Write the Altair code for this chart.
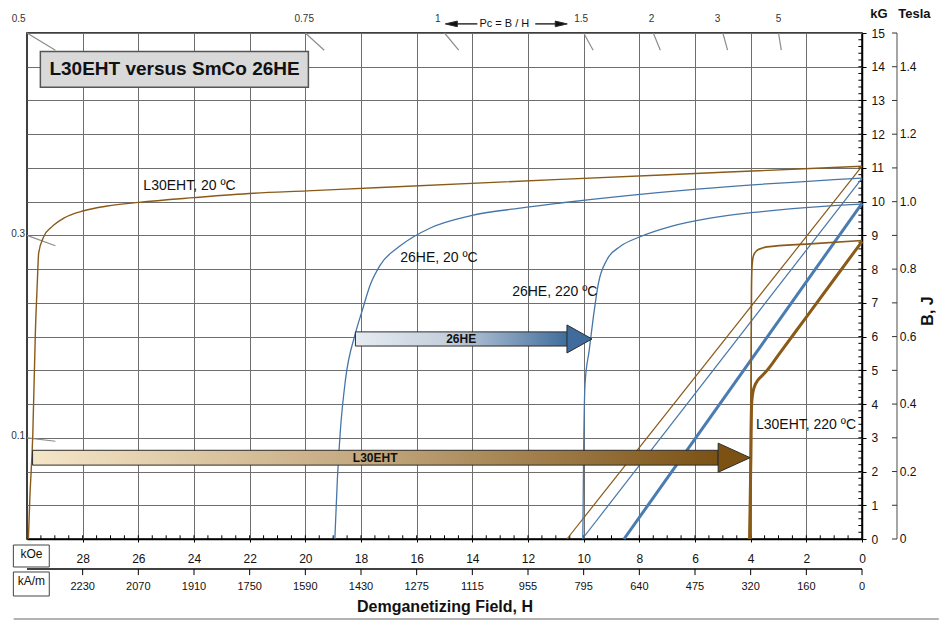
import altair as alt
import pandas as pd
import numpy as np

FONT = "Liberation Sans"
BROWN = "#8a5a18"
BLUE = "#4676a8"
GRID = "#6e6e6e"

# ---------------- demagnetization curves (H in kOe, B / J in kG) ----------------
l30_20_j_h = [29.95, 29.90, 29.79, 29.70, 29.63, 29.58, 29.40, 29.10, 28.68, 27.96, 27.12, 25.98, 24.00, 21.85, 19.94, 17.30, 10.84, 5.00, 0.00]
l30_20_j_b = [0.00, 1.16, 3.14, 6.11, 7.59, 8.48, 8.96, 9.26, 9.51, 9.73, 9.87, 9.98, 10.12, 10.25, 10.32, 10.42, 10.66, 10.87, 11.05]

l30_20_b_h = [10.60, 0.00]
l30_20_b_b = [0.00, 11.05]

l30_220_j_h = [4.04, 3.99, 3.97, 3.95, 3.90, 3.78, 3.60, 3.42, 1.87, 0.00]
l30_220_j_b = [0.00, 4.62, 7.50, 8.10, 8.40, 8.55, 8.62, 8.66, 8.75, 8.85]

l30_220_b_h = [4.04, 3.99, 3.97, 3.93, 3.85, 3.75, 3.60, 3.40, 3.00, 2.00, 1.00, 0.00]
l30_220_b_b = [0.00, 2.50, 3.90, 4.30, 4.55, 4.70, 4.83, 5.01, 5.46, 6.58, 7.70, 8.82]

he_20_j_h = [18.94, 18.85, 18.74, 18.56, 18.20, 17.95, 17.67, 17.31, 16.59, 15.51, 14.08, 12.28, 10.84, 5.82, 0.00]
he_20_j_b = [0.00, 1.75, 3.23, 4.71, 6.10, 6.79, 7.53, 8.12, 8.69, 9.22, 9.58, 9.81, 9.96, 10.38, 10.70]

he_20_b_h = [10.05, 0.00]
he_20_b_b = [0.00, 10.69]

he_220_j_h = [10.03, 10.00, 9.95, 9.80, 9.65, 9.47, 9.17, 8.69, 7.97, 6.89, 5.46, 3.66, 1.27, 0.00]
he_220_j_b = [0.00, 2.64, 4.61, 5.60, 6.59, 7.58, 8.27, 8.67, 8.96, 9.26, 9.51, 9.70, 9.87, 9.93]

he_220_b_h = [8.55, 0.00]
he_220_b_b = [0.00, 9.95]

# ---------------- labels ----------------
curve_label_text = ["L30EHT, 20 ºC", "26HE, 20 ºC", "26HE, 220 ºC", "L30EHT, 220 ºC"]
curve_label_h = [25.82, 16.59, 12.57, 3.81]
curve_label_b = [10.47, 8.33, 7.32, 3.38]

koe_ticks = list(range(0, 30, 2))
kam_at_koe = [28, 26, 24, 22, 20, 18, 16, 14, 12, 10, 8, 6, 4, 2, 0]
kam_labels = ["2230", "2070", "1910", "1750", "1590", "1430", "1275", "1115", "955", "795", "640", "475", "320", "160", "0"]

kg_ticks = list(range(0, 16))
tesla_at_kg = [0, 2, 4, 6, 8, 10, 12, 14]
tesla_labels = ["0", "0.2", "0.4", "0.6", "0.8", "1.0", "1.2", "1.4"]

pc_values = [0.1, 0.3, 0.5, 0.75, 1, 1.5, 2, 3, 5]
pc_top_text = ["0.5", "0.75", "1", "1.5", "2", "3", "5"]
pc_top_h = [30.3, 20.04, 15.24, 10.09, 7.56, 5.19, 3.0]
pc_left_text = ["0.3", "0.1"]
pc_left_b = [9.05, 3.05]

# ---------------- scales / axes ----------------
xs = alt.Scale(domain=[0, 30], reverse=True, nice=False, zero=False)
ys = alt.Scale(domain=[0, 15], nice=False, zero=False)

x_axis = alt.Axis(orient="bottom", values=koe_ticks, grid=True, gridColor=GRID, gridWidth=1,
                  tickSize=3, tickColor="#000", domainColor="#000", domainWidth=1.5,
                  labelFontSize=12, labelColor="#111", labelPadding=16, labelBaseline="middle",
                  labelFlush=False, labelOverlap=False,
                  title="Demganetizing Field, H", titleFontSize=16, titleFontWeight="bold",
                  titleColor="#111", titleY=67, titleBaseline="middle")
y_axis = alt.Axis(orient="right", values=kg_ticks, grid=True, gridColor=GRID, gridWidth=1,
                  tickSize=4, tickColor="#000", domainColor="#000", domainWidth=1.5,
                  labelFontSize=12, labelColor="#111", labelPadding=5, labelAlign="left",
                  labelBaseline="middle", labelFlush=False, labelOverlap=False, title=None)


def X(f="H"):
    return alt.X(f"{f}:Q", scale=xs, axis=x_axis)


def Y(f="B"):
    return alt.Y(f"{f}:Q", scale=ys, axis=y_axis)


def line(h, b, color, w, interp="monotone"):
    df = pd.DataFrame({"H": h, "B": b, "i": list(range(len(h)))})
    return alt.Chart(df).mark_line(color=color, strokeWidth=w, interpolate=interp).encode(
        x=X(), y=Y(), order="i:Q")


def rules(df, color, w):
    return alt.Chart(df).mark_rule(color=color, strokeWidth=w).encode(
        x=X("H"), x2="H2:Q", y=Y("B"), y2="B2:Q")


def texts(df, **kw):
    return alt.Chart(df).mark_text(**kw).encode(x=X(), y=Y(), text="t:N")


def rect(df, **kw):
    return alt.Chart(df).mark_rect(**kw).encode(x=X("H"), x2="H2:Q", y=Y("B"), y2="B2:Q")


def head(h, b, path, size, color):
    df = pd.DataFrame({"H": [h], "B": [b]})
    return alt.Chart(df).mark_point(shape=path, size=size, filled=True, fill=color, stroke="#2b2b2b",
                                    strokeWidth=1, opacity=1, fillOpacity=1).encode(x=X(), y=Y())


layers = []

# minor ticks
minor_h = [round(k * 0.5, 2) for k in range(1, 60)]
layers.append(rules(pd.DataFrame({"H": minor_h, "H2": minor_h, "B": [0] * len(minor_h), "B2": [0.11] * len(minor_h)}), "#000", 1))
minor_b = [round(k * 0.2, 2) for k in range(1, 75)]
layers.append(rules(pd.DataFrame({"H": [0] * len(minor_b), "H2": [0.13] * len(minor_b), "B": minor_b, "B2": minor_b}), "#000", 1))

# permeance coefficient load-line markers
pc_rows = []
for pc in pc_values:
    if pc * 30 <= 15:
        h0, b0 = 30.0, 30.0 * pc
    else:
        h0, b0 = 15.0 / pc, 15.0
    pc_rows.append({"H": h0, "B": b0, "H2": h0 * 0.966, "B2": b0 * 0.966})
layers.append(rules(pd.DataFrame(pc_rows), "#8c8c8c", 1.2))
layers.append(texts(pd.DataFrame({"H": pc_top_h, "B": [15.42] * len(pc_top_h), "t": pc_top_text}),
                    align="center", baseline="middle", fontSize=10, color="#333"))
layers.append(texts(pd.DataFrame({"H": [30.07] * 2, "B": pc_left_b, "t": pc_left_text}),
                    align="right", baseline="middle", fontSize=10, color="#333"))
# Pc = B/H arrows
layers.append(rules(pd.DataFrame({"H": [14.75, 11.74], "H2": [13.82, 10.80], "B": [15.27, 15.27], "B2": [15.27, 15.27]}), "#111", 1.3))
layers.append(head(14.97, 15.27, "M 0 0 L 3 -0.7 L 3 0.7 Z", 64, "#111"))
layers.append(head(10.59, 15.27, "M 0 0 L -3 -0.7 L -3 0.7 Z", 64, "#111"))
layers.append(texts(pd.DataFrame({"H": [12.85], "B": [15.27], "t": ["Pc = B / H"]}),
                    align="center", baseline="middle", fontSize=11, color="#111"))

# curves
layers.append(line(l30_20_j_h, l30_20_j_b, BROWN, 1.4))
layers.append(line(l30_20_b_h, l30_20_b_b, BROWN, 1.2, "linear"))
layers.append(line(he_20_j_h, he_20_j_b, BLUE, 1.3))
layers.append(line(he_20_b_h, he_20_b_b, BLUE, 1.2, "linear"))
layers.append(line(he_220_j_h, he_220_j_b, BLUE, 1.3))
layers.append(line(he_220_b_h, he_220_b_b, "#4a7cb2", 3.0, "linear"))
layers.append(line(l30_220_j_h, l30_220_j_b, BROWN, 1.6))
layers.append(line(l30_220_b_h, l30_220_b_b, BROWN, 3.0))

# curve labels
layers.append(texts(pd.DataFrame({"H": curve_label_h, "B": curve_label_b, "t": curve_label_text}),
                    align="left", baseline="middle", fontSize=14, color="#111"))

# big arrows
g_l30 = alt.Gradient(gradient="linear", x1=0, x2=1, y1=0, y2=0,
                     stops=[alt.GradientStop(color="#f5e6c8", offset=0),
                            alt.GradientStop(color="#c2a67c", offset=0.5),
                            alt.GradientStop(color="#7b5114", offset=1)])
g_he = alt.Gradient(gradient="linear", x1=0, x2=1, y1=0, y2=0,
                    stops=[alt.GradientStop(color="#e6ebf1", offset=0),
                           alt.GradientStop(color="#c2cedb", offset=0.45),
                           alt.GradientStop(color="#3f6c9c", offset=1)])
layers.append(rect(pd.DataFrame({"H": [29.80], "H2": [5.17], "B": [2.19], "B2": [2.63]}),
                   fill=g_l30, stroke="#2b2b2b", strokeWidth=1))
layers.append(head(4.02, 2.41, "M 0 0 L -2.13 -0.97 L -2.13 0.97 Z", 900, "#7b5114"))
layers.append(rect(pd.DataFrame({"H": [18.20], "H2": [10.56], "B": [5.72], "B2": [6.14]}),
                   fill=g_he, stroke="#2b2b2b", strokeWidth=1))
layers.append(head(9.70, 5.93, "M 0 0 L -1.79 -1 L -1.79 1 Z", 784, "#3f6c9c"))
layers.append(texts(pd.DataFrame({"H": [17.49, 14.40], "B": [2.41, 5.93], "t": ["L30EHT", "26HE"]}),
                    align="center", baseline="middle", fontSize=12, fontWeight="bold", color="#111"))

# title box
layers.append(rect(pd.DataFrame({"H": [29.52], "H2": [19.89], "B": [13.39], "B2": [14.45]}),
                   fill="#d9d9d9", stroke="#555", strokeWidth=1.5))
layers.append(texts(pd.DataFrame({"H": [24.70], "B": [13.92], "t": ["L30EHT versus SmCo 26HE"]}),
                    align="center", baseline="middle", fontSize=19, fontWeight="bold", color="#111"))

# kA/m secondary axis (below)
layers.append(rules(pd.DataFrame({"H": [30.0], "H2": [0.0], "B": [-0.889], "B2": [-0.889]}), "#000", 1.3))
layers.append(rules(pd.DataFrame({"H": kam_at_koe, "H2": kam_at_koe, "B": [-0.889] * 15, "B2": [-1.07] * 15}), "#000", 1))
layers.append(texts(pd.DataFrame({"H": kam_at_koe, "B": [-1.42] * 15, "t": kam_labels}),
                    align="center", baseline="middle", fontSize=11, color="#111"))
# unit boxes
layers.append(rect(pd.DataFrame({"H": [30.49, 30.49], "H2": [29.20, 29.20], "B": [-0.178, -0.978], "B2": [-0.83, -1.69]}),
                   fill="white", stroke="#444", strokeWidth=1))
layers.append(texts(pd.DataFrame({"H": [29.84, 29.84], "B": [-0.445, -1.245], "t": ["kOe", "kA/m"]}),
                    align="center", baseline="middle", fontSize=12, color="#111"))
# bottom page line
layers.append(rules(pd.DataFrame({"H": [30.48], "H2": [-2.76], "B": [-2.37], "B2": [-2.37]}), "#9a9a9a", 1.5))

# Tesla secondary axis (right)
layers.append(rules(pd.DataFrame({"H": [-1.257], "H2": [-1.257], "B": [0.0], "B2": [15.0]}), "#888", 1.5))
layers.append(rules(pd.DataFrame({"H": [-1.077] * 16, "H2": [-1.257] * 16, "B": kg_ticks, "B2": kg_ticks}), "#333", 1))
layers.append(texts(pd.DataFrame({"H": [-1.36] * 8, "B": tesla_at_kg, "t": tesla_labels}),
                    align="left", baseline="middle", fontSize=12, color="#111"))
layers.append(texts(pd.DataFrame({"H": [-0.61, -1.885], "B": [15.56, 15.56], "t": ["kG", "Tesla"]}),
                    align="center", baseline="middle", fontSize=13, fontWeight="bold", color="#111"))
layers.append(texts(pd.DataFrame({"H": [-2.37], "B": [6.76], "t": ["B, J"]}),
                    align="center", baseline="middle", fontSize=16, fontWeight="bold", angle=270, color="#111"))

chart = alt.layer(*layers).properties(
    width=835, height=506,
    padding={"left": 27, "top": 33, "right": 77, "bottom": 82},
    autosize=alt.AutoSizeParams(type="none"),
    background="white",
).configure(font=FONT).configure_view(stroke="#000", strokeWidth=1.5)

chart.save("out.html", embed_options={"renderer": "svg", "actions": False})
